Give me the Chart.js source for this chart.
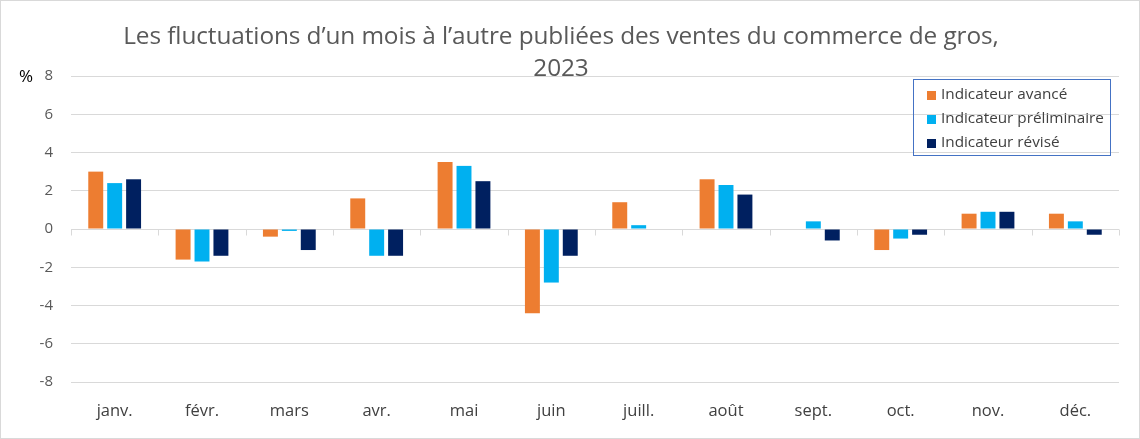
<!DOCTYPE html>
<html>
<head>
<meta charset="utf-8">
<script src="https://cdn.jsdelivr.net/npm/chart.js@4"></script>
<style>
  html, body { margin: 0; padding: 0; background: #fff; }
  #wrap { position: relative; width: 1140px; height: 439px; box-sizing: border-box; border: 1px solid #d9d9d9; font-family: "Open Sans", sans-serif; }
  #chart { position: absolute; left: 0; top: 0; }
  #title { position: absolute; left: 0; width: 1120px; top: 18px; text-align: center; color: #595959; font-size: 24.4px; line-height: 32px; letter-spacing: -0.1px; }
  #pct { position: absolute; left: 18px; top: 63px; font-size: 17px; color: #000; }
  #legend { position: absolute; left: 912px; top: 78px; width: 198px; height: 77px; box-sizing: border-box; border: 1px solid #4472c4; padding: 1px 0 0 13px; color: #404040; font-size: 15.3px; }
  #legend div { height: 24px; line-height: 24px; white-space: nowrap; }
  #legend span { display: inline-block; width: 9px; height: 9px; margin-right: 5px; vertical-align: -1px; }
</style>
</head>
<body>
<div id="wrap">
  <canvas id="chart" width="1140" height="439"></canvas>
  <div id="title">Les fluctuations d’un mois à l’autre publiées des ventes du commerce de gros,<br>2023</div>
  <div id="pct">%</div>
  <div id="legend"></div>
</div>
<script>
const months = ["janv.", "févr.", "mars", "avr.", "mai", "juin", "juill.", "août", "sept.", "oct.", "nov.", "déc."];
const avance = [3.0, -1.6, -0.4, 1.6, 3.5, -4.4, 1.4, 2.6, 0.0, -1.1, 0.8, 0.8];
const preliminaire = [2.4, -1.7, -0.1, -1.4, 3.3, -2.8, 0.2, 2.3, 0.4, -0.5, 0.9, 0.4];
const revise = [2.6, -1.4, -1.1, -1.4, 2.5, -1.4, 0.0, 1.8, -0.6, -0.3, 0.9, -0.3];
const seriesNames = ["Indicateur avancé", "Indicateur préliminaire", "Indicateur révisé"];
const seriesColors = ["#ed7d31", "#00b0f0", "#002060"];

// zero line with category tick marks
const zeroLine = {
    id: "zeroLine",
    beforeDatasetsDraw(chart) {
        const x = chart.scales.x, y = chart.scales.y, ctx = chart.ctx;
        const y0 = Math.round(y.getPixelForValue(0)) + 0.5;
        const step = (x.right - x.left) / months.length;
        ctx.save();
        ctx.strokeStyle = "#d9d9d9";
        ctx.lineWidth = 1;
        ctx.beginPath();
        ctx.moveTo(x.left, y0);
        ctx.lineTo(x.right, y0);
        for (let i = 0; i <= months.length; i++) {
            const px = Math.round(x.left + i * step) + 0.5;
            ctx.moveTo(px, y0);
            ctx.lineTo(px, y0 + 6);
        }
        ctx.stroke();
        ctx.restore();
    },
};

const data = [avance, preliminaire, revise];
const chart = new Chart(document.getElementById("chart").getContext("2d"), {
    type: "bar",
    data: {
        labels: months,
        datasets: data.map((d, i) => ({
            label: seriesNames[i],
            data: d,
            backgroundColor: seriesColors[i],
            borderWidth: 0,
            categoryPercentage: 0.65,
            barPercentage: 0.79,
        })),
    },
    options: {
        responsive: false,
        animation: false,
        devicePixelRatio: 1,
        layout: { padding: { top: 75, right: 22, left: 0, bottom: 0 } },
        plugins: {
            legend: { display: false },
            title: { display: false },
            tooltip: { enabled: false },
        },
        scales: {
            x: {
                grid: { display: false },
                border: { display: false },
                ticks: { color: "#404040", font: { family: "Open Sans", size: 16.5 }, padding: 11 },
                afterFit: (s) => { s.height = 58; },
            },
            y: {
                min: -8,
                max: 8,
                ticks: { stepSize: 2, color: "#595959", font: { family: "Open Sans", size: 15 }, padding: 18 },
                grid: { color: "#d9d9d9", drawTicks: false },
                border: { display: false },
                afterFit: (s) => { s.width = 70; },
            },
        },
    },
    plugins: [zeroLine],
});

const legend = document.getElementById("legend");
seriesNames.forEach((name, i) => {
    const row = document.createElement("div");
    row.innerHTML = '<span style="background:' + seriesColors[i] + '"></span>' + name;
    legend.appendChild(row);
});
</script>
</body>
</html>
